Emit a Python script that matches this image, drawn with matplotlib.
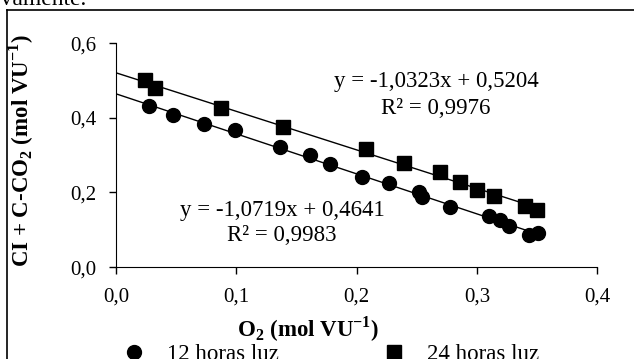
import numpy as np
import matplotlib
matplotlib.use('Agg')
import matplotlib.pyplot as plt
from matplotlib.ticker import FuncFormatter, MultipleLocator
from matplotlib.lines import Line2D

plt.rcParams['font.family'] = ['Liberation Serif', 'DejaVu Serif']
plt.rcParams['mathtext.fontset'] = 'custom'
plt.rcParams['mathtext.rm'] = 'Liberation Serif'
plt.rcParams['mathtext.bf'] = 'Liberation Serif:bold'

# 12 horas luz (circles)
o2_12h = [0.027, 0.047, 0.073, 0.099, 0.136, 0.161, 0.178, 0.2045, 0.227, 0.2515,
          0.2545, 0.278, 0.310, 0.3195, 0.327, 0.343, 0.351]
c_12h = [0.432, 0.407, 0.382, 0.366, 0.321, 0.301, 0.276, 0.240, 0.225, 0.2015,
         0.189, 0.160, 0.137, 0.125, 0.111, 0.087, 0.091]

# 24 horas luz (squares)
o2_24h = [0.0245, 0.0325, 0.0875, 0.139, 0.208, 0.239, 0.269, 0.286, 0.300, 0.3145,
          0.340, 0.350]
c_24h = [0.501, 0.481, 0.426, 0.374, 0.315, 0.278, 0.254, 0.229, 0.207, 0.190,
         0.163, 0.154]

# linear trendlines (slope, intercept, R²)
fit_12h = (-1.0719, 0.4641, 0.9983)
fit_24h = (-1.0323, 0.5204, 0.9976)

fig = plt.figure(figsize=(6.34, 3.59), dpi=100)
ax = fig.add_axes([0.183, 0.256, 0.759, 0.624])

fs = 15     # tick labels
fs2 = 16.5  # labels, equations, legend

def trend(ax, xs, fit):
    x = np.array([0, max(xs)])
    ax.plot(x, fit[0] * x + fit[1], color='black', lw=1, zorder=2)

trend(ax, o2_12h, fit_12h)
trend(ax, o2_24h, fit_24h)

h1, = ax.plot(o2_12h, c_12h, 'o', color='black', markersize=10, linestyle='none', zorder=3)
h2, = ax.plot(o2_24h, c_24h, 's', color='black', markersize=10, linestyle='none', zorder=3)

def eq_text(fit):
    s = f'{fit[0]:.4f}x + {fit[1]:.4f}'.replace('.', ',')
    return 'y = ' + s, 'R² = ' + f'{fit[2]:.4f}'.replace('.', ',')

l1, l2 = eq_text(fit_24h)
ax.text(0.266, 0.496, l1, ha='center', va='center', fontsize=fs2)
ax.text(0.266, 0.426, l2, ha='center', va='center', fontsize=fs2)
l1, l2 = eq_text(fit_12h)
ax.text(0.138, 0.152, l1, ha='center', va='center', fontsize=fs2)
ax.text(0.138, 0.085, l2, ha='center', va='center', fontsize=fs2)

ax.set_xlim(0, 0.4)
ax.set_ylim(0, 0.6)
ax.xaxis.set_major_locator(MultipleLocator(0.1))
ax.yaxis.set_major_locator(MultipleLocator(0.2))
fmt = FuncFormatter(lambda v, p: f'{v:.1f}'.replace('.', ','))
ax.xaxis.set_major_formatter(fmt)
ax.yaxis.set_major_formatter(fmt)
ax.tick_params(direction='out', length=5, width=1, labelsize=fs)
ax.tick_params(axis='x', pad=10)
ax.tick_params(axis='y', pad=9)
ax.spines['top'].set_visible(False)
ax.spines['right'].set_visible(False)

ax.set_xlabel(r'O$_\mathbf{2}$ (mol VU$^\mathbf{-1}$)', fontsize=fs2, fontweight='bold')
ax.xaxis.set_label_coords(0.40, -0.212)
ax.set_ylabel(r'CI + C-CO$_\mathbf{2}$ (mol VU$^\mathbf{-1}$)', fontsize=fs2, fontweight='bold')
ax.yaxis.set_label_coords(-0.166, 0.52)

fig.legend([h1, h2], ['12 horas luz', '24 horas luz'], loc='center left',
           bbox_to_anchor=(0.160, 0.012), ncol=2, frameon=False, fontsize=fs2,
           handlelength=1, handletextpad=0.94, columnspacing=4.56)

# page frame and text from the surrounding document
fig.add_artist(Line2D([0.011, 1.0], [0.972, 0.972], color='black', lw=1.2, transform=fig.transFigure))
fig.add_artist(Line2D([0.011, 0.011], [0.0, 0.972], color='black', lw=1.2, transform=fig.transFigure))
fig.text(0.137, 0.985, 'respectivamente.', ha='right', va='baseline', fontsize=17)

fig.savefig('out.png', dpi=100)
